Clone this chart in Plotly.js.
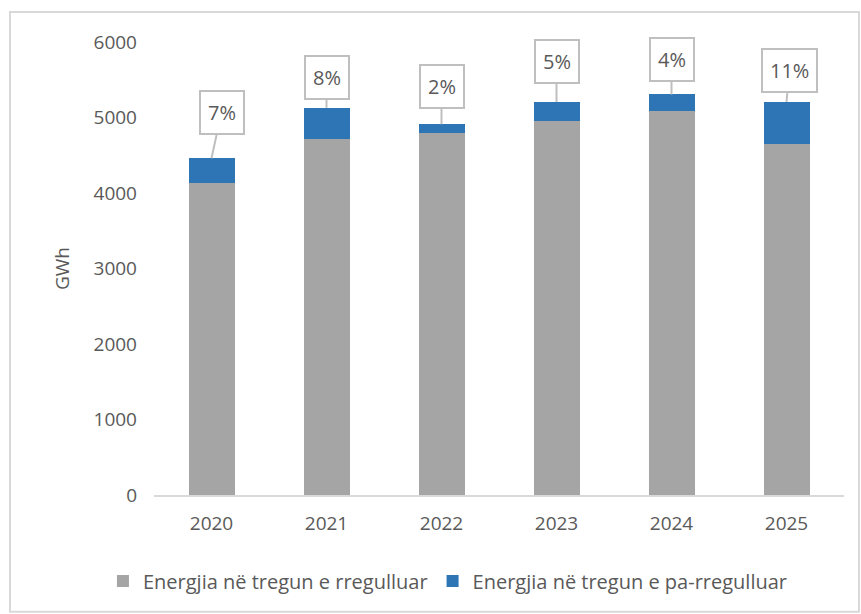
<!DOCTYPE html>
<html>
<head>
<meta charset="utf-8">
<script src="https://cdn.plot.ly/plotly-3.0.1.min.js"></script>
<style>
html,body{margin:0;padding:0;background:#fff;}
#chart{width:861px;height:614px;}
</style>
</head>
<body>
<div id="chart"></div>
<script>
// Data
const years = ["2020", "2021", "2022", "2023", "2024", "2025"];
const regulated = [4130, 4720, 4800, 4950, 5085, 4645];
const unregulated = [330, 410, 110, 255, 220, 560];
const seriesNames = ["Energjia në tregun e rregulluar", "Energjia në tregun e pa-rregulluar"];
const yTicks = [0, 1000, 2000, 3000, 4000, 5000, 6000];

// Styles
const FONT = "Open Sans, sans-serif";
const TXT = "#595959";
const calloutOffsets = [[10, -46], [0, -30], [0, -38], [0, -41], [0, -35], [3, -32]];

const totals = regulated.map((v, i) => v + unregulated[i]);
const shares = unregulated.map((v, i) => Math.round(v / totals[i] * 100) + "%");

const traces = [
  {type: "bar", name: seriesNames[0], x: years, y: regulated,
   marker: {color: "#a5a5a5"}, hoverinfo: "skip"},
  {type: "bar", name: seriesNames[1], x: years, y: unregulated,
   marker: {color: "#2e75b6"}, hoverinfo: "skip"}
];

const annotations = years.map((yr, i) => ({
  x: i, y: totals[i], xref: "x", yref: "y",
  text: shares[i], showarrow: true, arrowhead: 0, arrowwidth: 2,
  arrowcolor: "#bfbfbf", ax: calloutOffsets[i][0], ay: calloutOffsets[i][1],
  bordercolor: "#bfbfbf", borderwidth: 2, borderpad: 7, bgcolor: "#ffffff",
  font: {family: FONT, size: 20, color: TXT}
}));

const layout = {
  width: 861, height: 614,
  margin: {l: 154, r: 17, t: 42, b: 119},
  paper_bgcolor: "#ffffff", plot_bgcolor: "#ffffff",
  barmode: "stack", bargap: 0.6,
  font: {family: FONT, color: TXT, size: 19},
  showlegend: true,
  legend: {orientation: "h", x: 0.426, xanchor: "center", y: -0.19, yanchor: "middle",
           font: {family: FONT, size: 20, color: TXT}, traceorder: "normal"},
  xaxis: {type: "category", categoryorder: "array", categoryarray: years,
          range: [-0.5, 5.5], showgrid: false, zeroline: false, showline: true,
          linecolor: "#d9d9d9", linewidth: 2, ticks: "", ticklabelstandoff: 10,
          tickfont: {family: FONT, size: 19, color: TXT}, fixedrange: true},
  yaxis: {range: [0, 6000], tickvals: yTicks, ticktext: yTicks.map(String),
          showgrid: false, zeroline: false, showline: false, ticks: "",
          ticklabelstandoff: 16,
          tickfont: {family: FONT, size: 19, color: TXT},
          title: {text: "GWh", font: {family: FONT, size: 19, color: TXT}, standoff: 18},
          fixedrange: true},
  annotations: annotations,
  shapes: [{type: "rect", xref: "paper", yref: "paper",
            x0: -0.2087, x1: 1.0217, y0: -0.258, y1: 1.0662,
            line: {color: "#d9d9d9", width: 2}, fillcolor: "rgba(0,0,0,0)", layer: "below"}]
};

Plotly.newPlot("chart", traces, layout, {displayModeBar: false, staticPlot: true});
</script>
</body>
</html>
